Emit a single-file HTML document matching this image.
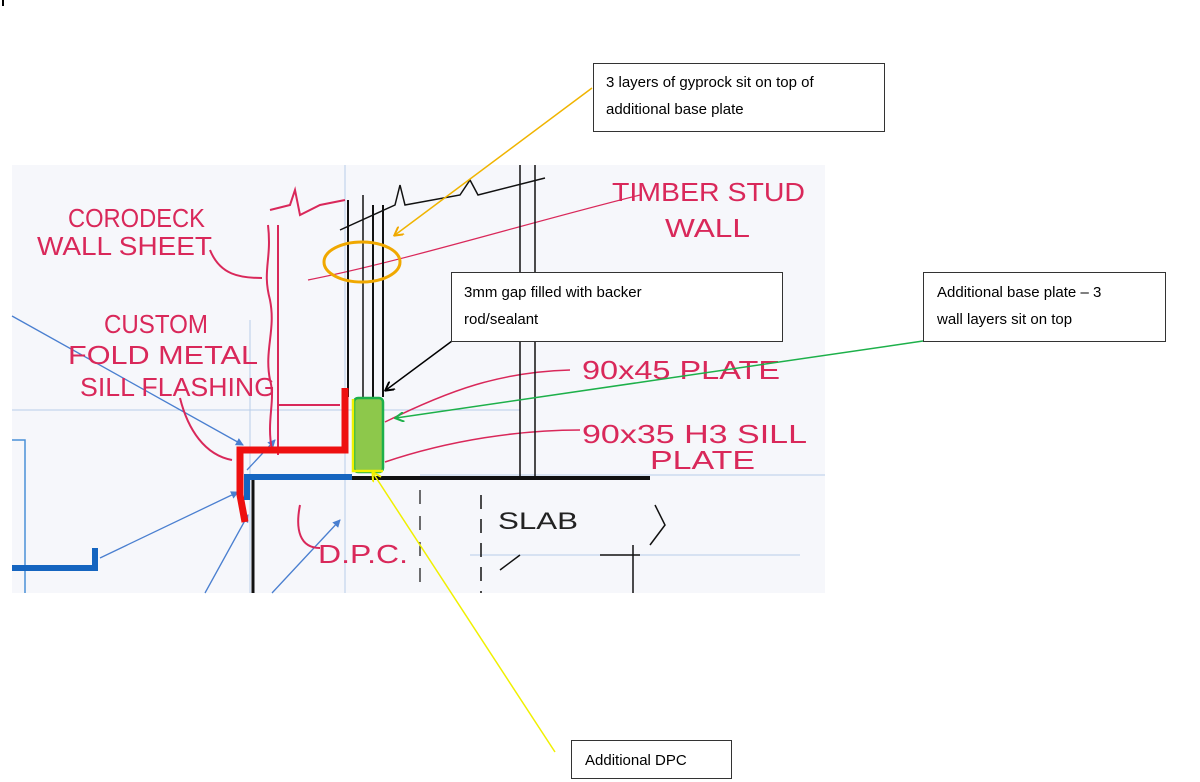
<!DOCTYPE html>
<html><head><meta charset="utf-8"><style>
html,body{margin:0;padding:0;background:#fff;}
svg{display:block;}
.h{font-family:"Liberation Sans",sans-serif;fill:#d9285a;font-size:26px;}
.b{font-family:"Liberation Sans",sans-serif;font-size:15px;fill:#000;}
</style></head><body>
<svg width="1200" height="782" viewBox="0 0 1200 782" xmlns="http://www.w3.org/2000/svg">
<defs>
<marker id="ao" markerWidth="10" markerHeight="10" refX="8" refY="5" orient="auto" markerUnits="userSpaceOnUse"><path d="M0,0 L9,5 L0,10" fill="none" stroke="#f0a800" stroke-width="2"/></marker>
<marker id="ak" markerWidth="10" markerHeight="10" refX="8" refY="5" orient="auto" markerUnits="userSpaceOnUse"><path d="M0,0 L9,5 L0,10" fill="none" stroke="#000" stroke-width="2"/></marker>
<marker id="ag" markerWidth="10" markerHeight="10" refX="8" refY="5" orient="auto" markerUnits="userSpaceOnUse"><path d="M0,0 L9,5 L0,10" fill="none" stroke="#1db04a" stroke-width="2"/></marker>
<marker id="ay" markerWidth="10" markerHeight="10" refX="8" refY="5" orient="auto" markerUnits="userSpaceOnUse"><path d="M0,0 L9,5 L0,10" fill="none" stroke="#f0f000" stroke-width="2"/></marker>
<marker id="ab" markerWidth="8" markerHeight="8" refX="7" refY="4" orient="auto" markerUnits="userSpaceOnUse"><path d="M0,0 L8,4 L0,8Z" fill="#4a7fd0"/></marker>
</defs>
<rect x="0" y="0" width="1200" height="782" fill="#fff"/>
<line x1="3" y1="0" x2="3" y2="6" stroke="#000" stroke-width="2"/>
<rect x="12" y="165" width="813" height="428" fill="#f6f7fb"/>
<g stroke="#b8cde8" stroke-width="1" fill="none">
<line x1="12" y1="410" x2="520" y2="410"/><line x1="420" y1="475" x2="825" y2="475"/>
<line x1="250" y1="320" x2="250" y2="593"/><line x1="345" y1="165" x2="345" y2="593"/>
<line x1="470" y1="555" x2="800" y2="555"/>
</g>
<path d="M12,440 H25 V593" fill="none" stroke="#4a90d8" stroke-width="1.5"/>
<path d="M12,568 H95 V548" fill="none" stroke="#1565c0" stroke-width="6"/>
<g stroke="#4a7fd0" stroke-width="1.3" fill="none">
<line x1="12" y1="316" x2="243" y2="445" marker-end="url(#ab)"/>
<line x1="100" y1="558" x2="238" y2="492" marker-end="url(#ab)"/>
<line x1="205" y1="593" x2="248" y2="515" marker-end="url(#ab)"/>
<line x1="272" y1="593" x2="340" y2="520" marker-end="url(#ab)"/>
<line x1="247" y1="470" x2="275" y2="440" marker-end="url(#ab)"/>
</g>
<g stroke="#d9285a" stroke-width="2" fill="none">
<path d="M268,225 C272,260 262,270 270,300 C276,330 264,350 270,380 C276,400 266,420 272,450"/>
<line x1="278" y1="225" x2="278" y2="455"/>
<path d="M210,250 C220,275 240,278 262,278"/>
<path d="M180,398 C188,430 205,455 232,460"/>
<path d="M308,280 C400,262 520,225 640,195" stroke-width="1.2"/>
<path d="M300,505 C295,530 300,548 320,548"/>
<path d="M278,405 H340"/>
<path d="M385,422 C450,390 500,372 570,370" stroke-width="1.5"/>
<path d="M385,462 C450,440 520,430 580,430" stroke-width="1.5"/>
<path d="M270,210 L290,205 L295,190 L300,215 L320,205 L345,200"/>
</g>
<g stroke="#111" fill="none">
<line x1="348" y1="200" x2="348" y2="397" stroke-width="2"/>
<line x1="363" y1="195" x2="363" y2="397" stroke-width="1.5"/>
<line x1="373" y1="205" x2="373" y2="397" stroke-width="2"/>
<line x1="383" y1="205" x2="383" y2="397" stroke-width="2"/>
<path d="M340,230 L395,205 L400,185 L405,205 L460,195 L470,180 L478,195 L545,178" stroke-width="1.5"/>
<line x1="520" y1="165" x2="520" y2="478" stroke-width="1.5"/>
<line x1="535" y1="165" x2="535" y2="478" stroke-width="1.5"/>
<line x1="345" y1="478" x2="650" y2="478" stroke-width="4"/>
<line x1="253" y1="480" x2="253" y2="593" stroke-width="3"/>
<line x1="481" y1="495" x2="481" y2="593" stroke-width="1.5" stroke-dasharray="14,10"/>
<line x1="420" y1="490" x2="420" y2="593" stroke-width="1.2" stroke-dasharray="14,12"/>
<line x1="633" y1="545" x2="633" y2="593" stroke-width="1.5"/>
<path d="M500,570 L520,555 M600,555 H640 M650,545 L665,525 L655,505" stroke-width="1.5"/>
</g>
<text class="h" x="68" y="227" textLength="137" lengthAdjust="spacingAndGlyphs">CORODECK</text>
<text class="h" x="37" y="255" textLength="175" lengthAdjust="spacingAndGlyphs">WALL SHEET</text>
<text class="h" x="104" y="333" textLength="104" lengthAdjust="spacingAndGlyphs">CUSTOM</text>
<text class="h" x="68" y="364" textLength="190" lengthAdjust="spacingAndGlyphs">FOLD METAL</text>
<text class="h" x="80" y="396" textLength="195" lengthAdjust="spacingAndGlyphs">SILL FLASHING</text>
<text class="h" x="612" y="201" textLength="193" lengthAdjust="spacingAndGlyphs">TIMBER STUD</text>
<text class="h" x="665" y="237" textLength="85" lengthAdjust="spacingAndGlyphs">WALL</text>
<text class="h" x="582" y="379" textLength="198" lengthAdjust="spacingAndGlyphs">90x45 PLATE</text>
<text class="h" x="582" y="443" textLength="225" lengthAdjust="spacingAndGlyphs">90x35 H3 SILL</text>
<text class="h" x="650" y="469" textLength="105" lengthAdjust="spacingAndGlyphs">PLATE</text>
<text class="h" x="318" y="563" textLength="90" lengthAdjust="spacingAndGlyphs">D.P.C.</text>
<text x="498" y="529" font-family="Liberation Sans,sans-serif" font-size="24" fill="#222" textLength="80" lengthAdjust="spacingAndGlyphs">SLAB</text>
<path d="M345,388 V450 H240 V495 L245,522" fill="none" stroke="#ee1010" stroke-width="7"/>
<path d="M352,477 H247 V500" fill="none" stroke="#1565c0" stroke-width="6"/>
<rect x="354" y="398" width="29" height="74" rx="4" fill="#8dc84b" stroke="#1db04a" stroke-width="2.5"/>
<path d="M353,399 V471 H383" fill="none" stroke="#f0f000" stroke-width="2.5"/>
<ellipse cx="362" cy="262" rx="38" ry="20" fill="none" stroke="#f0a800" stroke-width="3"/>
<line x1="592" y1="88" x2="395" y2="235" stroke="#f0b400" stroke-width="1.5" marker-end="url(#ao)"/>
<line x1="452" y1="341" x2="386" y2="390" stroke="#000" stroke-width="1.5" marker-end="url(#ak)"/>
<line x1="923" y1="341" x2="396" y2="418" stroke="#1db04a" stroke-width="1.5" marker-end="url(#ag)"/>
<line x1="555" y1="752" x2="373" y2="473" stroke="#f0f000" stroke-width="1.5" marker-end="url(#ay)"/>
<rect x="593.5" y="63.5" width="291" height="68" fill="#fff" stroke="#333"/>
<text class="b" x="606" y="87">3 layers of gyprock sit on top of</text>
<text class="b" x="606" y="114">additional base plate</text>
<rect x="451.5" y="272.5" width="331" height="69" fill="#fff" stroke="#333"/>
<text class="b" x="464" y="297">3mm gap filled with backer</text>
<text class="b" x="464" y="324">rod/sealant</text>
<rect x="923.5" y="272.5" width="242" height="69" fill="#fff" stroke="#333"/>
<text class="b" x="937" y="297">Additional base plate – 3</text>
<text class="b" x="937" y="324">wall layers sit on top</text>
<rect x="571.5" y="740.5" width="160" height="38" fill="#fff" stroke="#333"/>
<text class="b" x="585" y="765">Additional DPC</text>
</svg>
</body></html>
